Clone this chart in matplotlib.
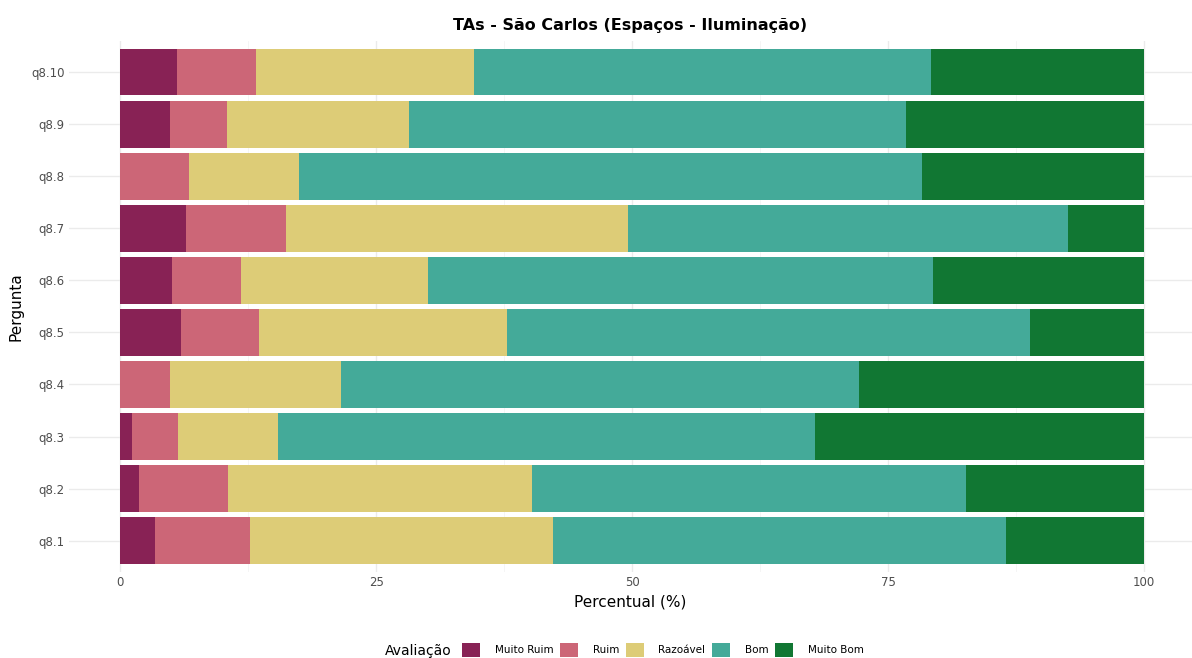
import matplotlib.pyplot as plt
from matplotlib.patches import Patch
from matplotlib.ticker import MultipleLocator

perguntas = ['q8.1', 'q8.2', 'q8.3', 'q8.4', 'q8.5', 'q8.6', 'q8.7', 'q8.8', 'q8.9', 'q8.10']
categorias = ['Muito Ruim', 'Ruim', 'Razoável', 'Bom', 'Muito Bom']
cores = ['#882255', '#CC6677', '#DDCC77', '#44AA99', '#117733']

muito_ruim = [3.4, 1.8, 1.2, 0.0, 5.9, 5.1, 6.4, 0.0, 4.9, 5.5]
ruim = [9.3, 8.7, 4.4, 4.9, 7.7, 6.7, 9.8, 6.7, 5.5, 7.8]
razoavel = [29.6, 29.7, 9.8, 16.7, 24.2, 18.3, 33.4, 10.8, 17.8, 21.3]
bom = [44.2, 42.4, 52.5, 50.6, 51.1, 49.3, 43.0, 60.8, 48.6, 44.6]
muito_bom = [13.5, 17.4, 32.1, 27.8, 11.1, 20.6, 7.4, 21.7, 23.2, 20.8]

series = [muito_ruim, ruim, razoavel, bom, muito_bom]

fig = plt.figure(figsize=(11.92, 6.58), dpi=100)
ax = fig.add_axes([0.0579, 0.1307, 0.9421, 0.8074])

# stacked horizontal bars
ypos = list(range(1, len(perguntas) + 1))
left = [0.0] * len(perguntas)
for vals, cor in zip(series, cores):
    ax.barh(ypos, vals, left=left, height=0.9, color=cor, zorder=2)
    left = [a + b for a, b in zip(left, vals)]

ax.set_xlim(-5, 104.7)
ax.set_ylim(0.4, 10.6)
ax.set_yticks(ypos)
ax.set_yticklabels(perguntas)
ax.xaxis.set_major_locator(MultipleLocator(25))
ax.xaxis.set_minor_locator(MultipleLocator(12.5))
ax.set_xticks([0, 25, 50, 75, 100])
ax.set_xticklabels(['0', '25', '50', '75', '100'])

# theme_minimal look
for s in ax.spines.values():
    s.set_visible(False)
ax.grid(which='major', color='#EBEBEB', linewidth=1.0, zorder=0)
ax.grid(which='minor', axis='x', color='#F4F4F4', linewidth=0.6, zorder=0)
ax.tick_params(which='both', length=0, labelsize=8.5, colors='#4D4D4D', pad=3)
ax.set_axisbelow(True)

ax.set_xlabel('Percentual (%)', fontsize=11, color='black', labelpad=4)
ax.set_ylabel('Pergunta', fontsize=11, color='black', labelpad=6)
ax.set_title('TAs - São Carlos (Espaços - Iluminação)', fontsize=11.5,
             fontweight='bold', pad=8)

# legend at the bottom, title on the left
fig.text(452 / 1192, 1 - 651 / 658, 'Avaliação', fontsize=10, ha='right', va='center')
handles = [Patch(facecolor=c, edgecolor='none') for c in cores]
fig.legend(handles, categorias, loc='center left', bbox_to_anchor=(462 / 1192, 1 - 650 / 658),
           ncol=5, frameon=False, fontsize=7.5, handlelength=1.73, handleheight=1.73,
           handletextpad=1.4, columnspacing=0.65, borderaxespad=0, borderpad=0)

plt.savefig('out.png', dpi=100)
